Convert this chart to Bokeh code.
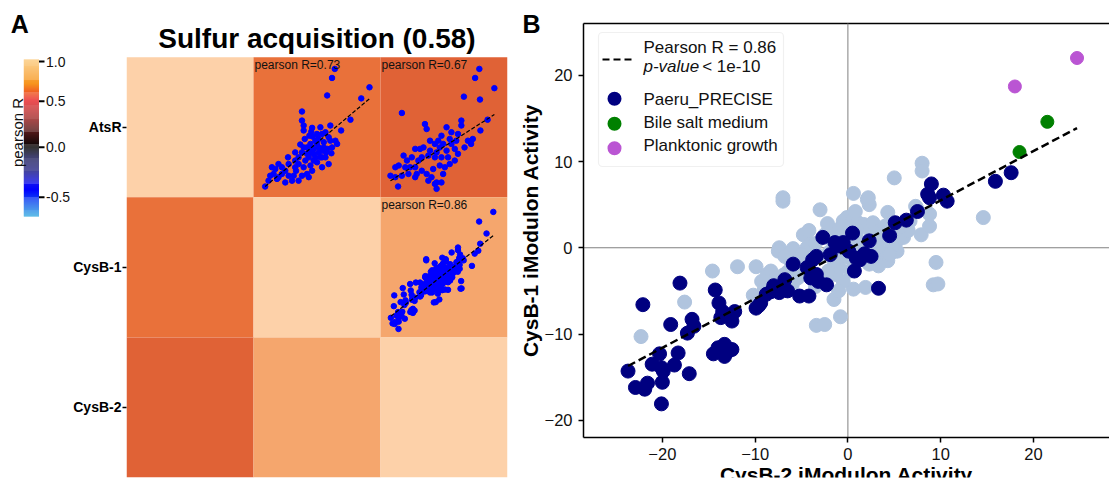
import numpy as np
from bokeh.plotting import figure
from bokeh.models import (ColumnDataSource, Range1d, FixedTicker, Label, BoxAnnotation)
from bokeh.layouts import row
from bokeh.embed import file_html
from bokeh.resources import INLINE

FONT = "Liberation Sans"

# ---------------- data ----------------
modules = ["AtsR", "CysB-1", "CysB-2"]
corr = [[1.00, 0.73, 0.67],
        [0.73, 1.00, 0.86],
        [0.67, 0.86, 1.00]]
cluster_name = "Sulfur acquisition"
cluster_score = 0.58

cb_tick_values = [1.0, 0.5, 0.0, -0.5]
cb_tick_labels = ["1.0", "0.5", "0.0", "-0.5"]

# AtsR vs CysB-1 (mini scatter, upper triangle)
atsr_cysb1_x = [9.8, 8.5, 6.2, 26.2, 22.3, 17.2, 12.8, -5.7, -5.7, -4.9, -0.9, 3.0, 7.7, 3.8, 6.9,
                -23.1, -20.7, -18.3, -16.8, -15.2, -12.0, -8.9, -5.7, -3.3, -4.1, -2.5, -7.3, -8.9,
                -4.9, -1.7, 0.6, 2.2, 3.8, 5.4, 6.9, 3.8, 1.4, -0.9, -10.4, -13.6, -17.5, -19.1,
                -15.2, -12.0, -7.3, -2.5, -0.2, 2.2, 4.6, 8.5, 10.1, 10.9, 5.4, -8.9, -5.7, -3.3,
                -2.2, -0.6, -4.4, -6.5, -9.6, -2.5, -13.6, -21.5, -19.9, -12.3, -8.5, -4.9, -1.7,
                0.6, 3.0, 5.7, 8.2, 1.4, -1.3, -4.9, 7.7, -16.8, -7.3, -0.2, 2.2, 4.6, 1.4, -3.3,
                -0.9, 6.2, 3.8, -0.2]
atsr_cysb1_y = [23.0, 19.9, 13.9, 16.7, 12.9, 5.6, 1.9, 8.4, 5.3, 3.6, 2.8, 3.0, 3.6, 0.7, -0.4,
                -17.3, -13.6, -11.3, -9.6, -13.0, -13.6, -10.7, -13.6, -13.0, -8.4, -7.3, -7.3, -5.6,
                -3.9, -2.7, -1.6, -3.9, -5.0, -7.3, -9.6, -10.7, -9.0, -11.9, -15.3, -15.9, -14.7,
                -13.0, -10.7, -9.6, -9.6, -5.6, -4.4, -1.0, -2.1, -3.9, -1.6, -2.7, 1.3, -8.4, -5.6,
                -3.9, 0.1, -0.2, -1.0, -2.9, -13.6, -14.1, -11.9, -15.3, -10.7, -7.3, -11.9, -10.7,
                -10.1, -7.3, -7.3, -5.6, -5.9, 0.7, 1.5, 1.9, -1.6, -14.1, -15.3, -6.1, -5.6, -3.9,
                -2.7, -6.1, -4.4, -4.4, -7.3, -8.4]

# AtsR vs CysB-2 (mini scatter, upper triangle)
atsr_cysb2_x = [18.1, 16.1, 25.2, 10.8, 18.4, -18.5, -7.6, -6.8, 9.6, 9.6, 22.0, 18.6, 15.0, 0.2,
                2.6, 4.9, 8.0, -5.2, -2.9, -0.6, 2.6, 4.9, 6.5, 8.0, -9.9, -12.2, -13.8, -9.1, -6.0,
                -2.9, 0.2, 3.3, -17.7, -16.1, -20.0, -21.6, -23.9, -21.6, -18.5, -15.4, -12.2, -9.1,
                -6.8, -4.5, -2.9, -2.1, 1.0, -6.0, -3.7, -0.6, 1.8, 4.1, 6.5, -11.5, -14.6, -20.3,
                -12.2, 14.2, -1.3, 1.0, -2.1, -5.2, 4.1, 7.2, -8.3, 11.1, 12.7, -10.7, -16.9, 0.2,
                -2.1]
atsr_cysb2_y = [23.0, 19.9, 16.4, 13.5, 12.5, 7.9, 4.1, 2.4, 5.3, 3.6, 5.6, 1.9, -1.0, 0.1, 3.0,
                1.3, 0.7, -1.6, -2.7, -3.9, -5.0, -2.7, -4.4, -6.1, -4.4, -4.4, -7.3, -7.3, -6.7,
                -7.3, -7.3, -7.3, -6.7, -8.4, -10.1, -10.7, -13.6, -14.1, -13.6, -13.0, -10.7, -11.9,
                -13.0, -14.1, -16.4, -15.9, -13.0, -15.3, -11.3, -10.1, -10.7, -9.6, -8.4, -13.0,
                -10.7, -17.3, -14.1, -2.7, -1.6, -2.7, -5.6, -5.0, -1.0, -1.6, -3.9, -3.9, -1.6,
                -8.4, -10.7, -15.9, -18.1]

# Panel B: CysB-2 (x) vs CysB-1 (y) iModulon activities
precise_x = [-23.7, -22.9, -21.9, -21.6, -22.1, -21.1, -20.3, -20.1, -19.9, -20.0, -20.1, -19.1,
             -18.7, -18.3, -18.1, -17.1, -17.3, -16.8, -16.6, -14.3, -14.5, -13.9, -13.5, -13.7,
             -13.3, -13.3, -13.9, -12.5, -12.2, -12.5, -9.9, -9.4, -8.8, -8.0, -7.4, -6.8, -6.5,
             -5.9, -5.2, -4.2, -4.4, -3.8, -3.4, -4.0, -3.4, -3.2, -2.7, -2.3, -1.9, -1.4, -0.9,
             -0.5, 0.1, 0.5, 0.9, 0.7, 1.3, 1.8, 2.3, 2.5, 3.3, 4.5, 5.1, 6.3, 7.5, 8.6, 9.0, 8.8,
             10.3, 10.7, 15.9, 17.6, -14.0, -12.9, -9.6, -8.3]
precise_y = [-14.3, -16.2, -16.4, -15.7, -6.6, -13.5, -12.3, -13.9, -14.3, -15.6, -18.1, -8.9,
             -13.6, -12.2, -4.1, -14.6, -9.9, -8.3, -9.1, -4.9, -12.3, -6.4, -7.4, -8.1, -11.2,
             -12.6, -12.0, -11.8, -7.4, -8.5, -7.0, -6.4, -5.4, -4.4, -5.2, -3.7, -5.0, -1.9, -5.6,
             -5.6, -2.3, -1.4, -1.0, -3.5, -3.1, -3.9, 1.2, -4.3, -0.8, 0.6, 0.2, 0.6, -0.4, 1.7,
             -1.2, -2.7, -1.4, -0.7, 0.8, -1.0, -4.7, 1.4, 2.9, 3.2, 4.2, 6.2, 7.4, 5.8, 6.1, 5.4,
             7.7, 8.7, -11.6, -12.0, -6.7, -5.1]
other_x = [-22.3, -17.6, -14.6, -11.9, -9.9, -9.3, -8.7, -8.3, -7.8, -7.4, -7.5, -7.0, -7.0, -5.9,
           -6.2, -5.4, -4.8, -4.4, -4.0, -3.0, -3.4, -2.5, -1.5, -0.8, -1.1, -0.5, -0.1, 0.5, 0.6,
           2.1, 2.3, 1.1, 1.7, 2.7, 3.3, 4.3, 5.0, 5.3, 5.3, 4.3, 3.3, 2.3, 1.9, 0.6, -0.5, -1.3,
           -2.1, -0.9, 0.3, 6.7, 7.4, 7.9, 8.8, 8.8, 9.5, 9.2, 9.7, 14.6, 8.0, 8.0, 2.2, 7.3,
           -3.0, -2.0, -1.0, 0.0, 1.0, 2.0, 3.0, -2.5, -1.5, 0.5, 1.5, 2.5, 3.5, -0.5, 1.0, -3.5,
           4.0, 4.8, -4.5, -5.5, -6.5, -7.0, -8.0, -6.0, -3.5, -1.0, -2.5, -0.2, 1.2, -1.8, 3.8,
           4.5, 6.0, 6.5, -9.0, -10.2, -6.8, -5.0, 0.2, -0.6, 2.8, 5.6, -2.2, 0.8, -4.2]
other_y = [-10.3, -6.3, -2.7, -2.2, -2.2, -3.9, -3.1, -2.7, -3.5, 0.0, -0.4, 5.4, 5.8, -0.1, -1.5,
           -3.5, 1.5, 0.0, 0.4, 4.4, -9.0, -8.9, -6.0, -8.0, 2.1, 3.1, 3.5, 3.2, 6.3, 5.6, 5.0,
           2.9, 2.7, 2.9, 1.9, 4.1, 8.1, 0.8, -0.4, -1.5, -2.1, -1.9, -4.6, -4.8, -3.9, -3.1, -2.7,
           -2.3, -2.7, 3.1, 4.6, 1.5, 3.9, 2.5, -1.7, -4.3, -4.2, 3.5, 9.8, 8.9, 5.8, 4.8,
           -1.0, -0.5, 0.5, 1.5, 1.0, 0.0, 0.5, 1.5, -1.5, -1.5, -0.5, 1.5, -0.5, 2.5, 2.0, 0.5,
           2.5, 0.2, -2.5, -2.0, -2.8, -3.2, -4.5, -4.3, -4.5, -5.0, -3.5, -1.0, 0.2, 1.0, 1.0,
           -0.8, 1.2, 2.0, -4.8, -5.5, -1.0, -0.8, 0.5, -0.2, -1.0, 2.4, 2.8, 4.2, 2.0]
bile_x = [18.5, 21.5]
bile_y = [11.1, 14.6]
plank_x = [18.0, 24.7]
plank_y = [18.7, 22.0]

pearson_r = 0.86
p_value_text = "< 1e-10"
fit_slope, fit_intercept = 0.57, -0.2
fit_atsr_cysb1 = (0.61, -3.2)
fit_atsr_cysb2 = (0.462, -4.3)

ticks_b = [-20, -10, 0, 10, 20]
b_xlim = (-28.5, 28.2)
b_ylim = (-22.0, 26.0)

# ---------------- styles / geometry ----------------
cb_anchor_vals = [-0.73, -0.5, 0.0, 0.5, 1.0, 1.02]
cb_anchor_frac = [0.0, 0.123, 0.441, 0.734, 0.987, 1.0]
cb_grad_pos = [0.0, 0.155, 0.26, 0.367, 0.45, 0.56, 0.62, 0.705, 0.79, 0.83, 0.94, 1.0]
cb_grad_hex = ["#FBC774", "#F7941D", "#E8262A", "#A02020", "#5A1A1A", "#050505", "#161650",
               "#1A1A80", "#1010F0", "#0000FF", "#1A70E8", "#2AA8E0"]
heat_anchor_vals = [0.60, 0.67, 0.73, 0.86, 1.00]
heat_anchor_hex = ["#D85A30", "#E06236", "#E9713A", "#F5A66D", "#FDD1A9"]
mini_x_span = (-28.6, 31.4)
mini_y_span = (-21.0, 27.0)

PAGE_TOP, PAGE_BOT = 0, 477          # common frame top / bottom (canvas px)
H = 488
BORDER_B = H - PAGE_BOT              # 11
DESC = 0.18                          # descent fraction for bottom-anchored labels
CB_W, HM_W, PB_W = 70, 445, 594
# colorbar strip
GB, GT = 216.0, 59.0
GH = GB - GT
G_LEFT, G_RIGHT = 23.3, 38.5
# heatmap cell geometry
CELL_TOP, CELL_PX = 56.7, 140.0
# panel B frame mapping
B_LEFT, B_TOP, B_BOTTOM, B_RIGHT = 583.0, 23.0, 437.0, 1109.0
PB_CANVAS_LEFT = CB_W + HM_W


def hex2rgb(hx):
    hx = hx.lstrip("#")
    return [int(hx[k:k + 2], 16) for k in (0, 2, 4)]


def interp_colors(pos, anchor_pos, anchor_hex):
    rgb = np.array([hex2rgb(c) for c in anchor_hex], float)
    out = []
    for q in np.atleast_1d(pos):
        vals = [np.interp(q, anchor_pos, rgb[:, k]) for k in range(3)]
        out.append("#%02x%02x%02x" % tuple(int(round(v)) for v in vals))
    return out


# ---------------- colorbar figure (x in px, y in bar fraction) ----------------
def cyf(py):
    return (GB - py) / GH


cb = figure(width=CB_W, height=H, x_range=Range1d(0, CB_W),
            y_range=Range1d(cyf(PAGE_BOT), cyf(PAGE_TOP)),
            output_backend="svg", toolbar_location=None, x_axis_location=None,
            y_axis_location=None, min_border_left=0, min_border_right=0,
            min_border_top=0, min_border_bottom=BORDER_B)
cb.grid.visible = False
cb.outline_line_color = None
N = 160
edges = np.linspace(0, 1, N + 1)
mids = 0.5 * (edges[:-1] + edges[1:])
cb.quad(left=G_LEFT, right=G_RIGHT, bottom=edges[:-1], top=edges[1:],
        color=interp_colors(1 - mids, cb_grad_pos, cb_grad_hex), line_color=None)
tick_frac = list(np.interp(cb_tick_values, cb_anchor_vals, cb_anchor_frac))
cb.segment(x0=G_RIGHT, x1=G_RIGHT + 5.5, y0=tick_frac, y1=tick_frac, line_color="black",
           line_width=2)
for tv, tl in zip(tick_frac, cb_tick_labels):
    cb.add_layout(Label(x=45.5, y=tv, text=tl, text_baseline="middle",
                        text_font=FONT, text_font_size="14px", text_color="#111111"))
cb.add_layout(Label(x=16.5, y=cyf(132), text="pearson R", angle=np.pi / 2,
                    text_align="center", text_baseline="middle",
                    text_font=FONT, text_font_size="15px", text_color="#111111"))
cb.add_layout(Label(x=10.3, y=cyf(33 + DESC * 25), text="A", text_baseline="bottom",
                    text_font=FONT, text_font_size="25px", text_font_style="bold",
                    text_color="black"))

# ---------------- heatmap figure (numeric cell grid) ----------------
n = len(modules)
y_top = n + (CELL_TOP - PAGE_TOP) / CELL_PX
heat = figure(width=HM_W, height=H, x_range=Range1d(0, n), y_range=Range1d(0, y_top),
              output_backend="svg", toolbar_location=None, min_border_left=53,
              min_border_right=8, min_border_top=0, min_border_bottom=BORDER_B)
heat.grid.visible = False
heat.outline_line_color = None
heat.xaxis.visible = False
row_centers = [n - i - 0.5 for i in range(n)]
heat.yaxis.ticker = FixedTicker(ticks=row_centers)
heat.yaxis.major_label_overrides = {c: m for c, m in zip(row_centers, modules)}
heat.yaxis.major_label_text_font = FONT
heat.yaxis.major_label_text_font_size = "14px"
heat.yaxis.major_label_text_font_style = "bold"
heat.yaxis.major_label_text_color = "black"
heat.yaxis.major_tick_out = 4
heat.yaxis.major_tick_in = 0
heat.yaxis.major_tick_line_width = 1.5
heat.yaxis.minor_tick_line_color = None
heat.yaxis.axis_line_color = None
heat.yaxis.major_label_standoff = 1
heat.add_layout(Label(x=n / 2, y=n + (CELL_TOP - (48 + DESC * 28)) / CELL_PX,
                      text="%s (%.2f)" % (cluster_name, cluster_score), text_align="center",
                      text_baseline="bottom", text_font=FONT, text_font_size="28px",
                      text_font_style="bold", text_color="black"))

cx, cy, cc = [], [], []
for i in range(n):
    for j in range(n):
        cx.append(j + 0.5)
        cy.append(n - i - 0.5)
        cc.append(corr[i][j])
heat_src = ColumnDataSource(dict(x=cx, y=cy, r=cc,
                                 color=interp_colors(cc, heat_anchor_vals, heat_anchor_hex)))
heat.rect(x="x", y="y", width=1, height=1, fill_color="color", line_color=None, source=heat_src)

all_b_x = other_x + precise_x + bile_x + plank_x
all_b_y = other_y + precise_y + bile_y + plank_y
cells = [(0, 1, atsr_cysb1_x, atsr_cysb1_y, corr[0][1], fit_atsr_cysb1),
         (0, 2, atsr_cysb2_x, atsr_cysb2_y, corr[0][2], fit_atsr_cysb2),
         (1, 2, all_b_x, all_b_y, corr[1][2], (fit_slope, fit_intercept))]
mx0, mx1 = mini_x_span
my0, my1 = mini_y_span
w, h = mx1 - mx0, my1 - my0
exr, eyr = {}, {}
for (i, j, xs, ys, r, fit) in cells:
    name = "c%d%d" % (i, j)
    base = n - 1 - i
    exr[name] = Range1d(mx0 - j * w, mx1 + (n - 1 - j) * w)
    eyr[name] = Range1d(my0 - base * h, my0 + (y_top - base) * h)
heat.extra_x_ranges = exr
heat.extra_y_ranges = eyr
for (i, j, xs, ys, r, fit) in cells:
    name = "c%d%d" % (i, j)
    heat.scatter(xs, ys, size=5.5, color="#0000FF", x_range_name=name, y_range_name=name)
    lx = np.array([min(xs), max(xs)])
    heat.line(lx, fit[0] * lx + fit[1], line_dash="4 2", line_color="black", line_width=1.2,
              x_range_name=name, y_range_name=name)
    heat.add_layout(Label(x=mx0, y=my1, x_range_name=name, y_range_name=name,
                          text="pearson R=%.2f" % r, x_offset=1, y_offset=-1,
                          text_baseline="top", text_font=FONT, text_font_size="12px",
                          text_color="#111111"))

# ---------------- panel B ----------------
sx = (B_RIGHT - B_LEFT) / (b_xlim[1] - b_xlim[0])     # px per unit
sy = (B_BOTTOM - B_TOP) / (b_ylim[1] - b_ylim[0])


def px2x(px):
    return b_xlim[0] + (px - B_LEFT) / sx


def px2y(py):
    return b_ylim[1] - (py - B_TOP) / sy


def base_y(baseline, size):
    return px2y(baseline + DESC * size)


pb = figure(width=PB_W, height=H, x_range=Range1d(px2x(PB_CANVAS_LEFT), px2x(PB_CANVAS_LEFT + PB_W)),
            y_range=Range1d(px2y(PAGE_BOT), px2y(PAGE_TOP)),
            output_backend="svg", toolbar_location=None, min_border_left=0,
            min_border_right=0, min_border_top=0, min_border_bottom=BORDER_B)
pb.grid.visible = False
pb.outline_line_color = None
for ax in (pb.xaxis, pb.yaxis):
    ax.ticker = FixedTicker(ticks=ticks_b)
    ax.major_label_overrides = {t: str(t).replace("-", "\u2212") for t in ticks_b}
    ax.major_label_text_font = FONT
    ax.major_label_text_font_size = "16.5px"
    ax.major_label_text_color = "#111111"
    ax.axis_label_text_font = FONT
    ax.axis_label_text_font_size = "21px"
    ax.axis_label_text_font_style = "bold"
    ax.axis_label_text_color = "black"
    ax.axis_line_width = 1.5
    ax.axis_line_color = "black"
    ax.major_tick_out = 5
    ax.major_tick_in = 0
    ax.major_tick_line_width = 1.5
    ax.minor_tick_line_color = None
    ax.major_label_standoff = 6
pb.xaxis.fixed_location = b_ylim[0]
pb.xaxis.bounds = b_xlim
pb.yaxis.fixed_location = b_xlim[0]
pb.yaxis.bounds = b_ylim
pb.xaxis.axis_label = "CysB-2 iModulon Activity"
pb.yaxis.axis_label = "CysB-1 iModulon Activity"
pb.xaxis.major_label_standoff = 5
pb.xaxis.axis_label_standoff = 0
pb.yaxis.axis_label_standoff = 0

# top spine and zero lines
pb.segment(x0=b_xlim[0], x1=b_xlim[1], y0=b_ylim[1], y1=b_ylim[1], line_color="black",
           line_width=1.5)
pb.segment(x0=b_xlim[0], x1=b_xlim[1], y0=0, y1=0, line_color="#808080", line_width=1)
pb.segment(x0=0, x1=0, y0=b_ylim[0], y1=b_ylim[1], line_color="#808080", line_width=1)

pb.scatter(other_x, other_y, size=14, color="#B0C4DE")
pb.scatter(precise_x, precise_y, size=14, color="#000080")
pb.scatter(bile_x, bile_y, size=13, color="#008000")
pb.scatter(plank_x, plank_y, size=13, color="#BA55D3")
fx = np.array([min(all_b_x), max(all_b_x)])
pb.line(fx, fit_slope * fx + fit_intercept, line_dash="8 4", line_color="black", line_width=2.5)

# legend (drawn by hand)
pb.add_layout(BoxAnnotation(left=px2x(598), right=px2x(783), bottom=px2y(166), top=px2y(32),
                            fill_color="white", fill_alpha=0.85, line_color="#CCCCCC",
                            line_width=1.2, border_radius=4, level="underlay"))
pb.line([px2x(602), px2x(635)], [px2y(59), px2y(59)], line_color="black", line_width=2.2,
        line_dash="7 4")
leg_colors = ["#000080", "#008000", "#BA55D3"]
leg_names = ["Paeru_PRECISE", "Bile salt medium", "Planktonic growth"]
leg_yc = [98.3, 123.3, 147.7]
leg_base = [105.0, 128.7, 151.7]
for col, nm, yc, yb in zip(leg_colors, leg_names, leg_yc, leg_base):
    pb.add_layout(BoxAnnotation(left=px2x(607), right=px2x(621), bottom=px2y(yc + 7),
                                top=px2y(yc - 7), fill_color=col, fill_alpha=1,
                                line_color=None, border_radius=7))
    pb.add_layout(Label(x=px2x(643), y=base_y(yb, 17), text=nm, text_font=FONT,
                        text_baseline="bottom", text_font_size="17px", text_color="#111111"))
pb.add_layout(Label(x=px2x(643), y=base_y(53.3, 17), text="Pearson R = %.2f" % pearson_r,
                    text_baseline="bottom", text_font=FONT, text_font_size="17px",
                    text_color="#111111"))
pb.add_layout(Label(x=px2x(643), y=base_y(72, 17), text="p-value", text_font=FONT,
                    text_baseline="bottom", text_font_size="17px", text_font_style="italic",
                    text_color="#111111"))
pb.add_layout(Label(x=px2x(701.7), y=base_y(72, 17), text=p_value_text, text_font=FONT,
                    text_baseline="bottom", text_font_size="17px", text_color="#111111"))
pb.add_layout(Label(x=px2x(522), y=base_y(33, 25), text="B", text_font=FONT,
                    text_baseline="bottom", text_font_size="25px", text_font_style="bold",
                    text_color="black"))

layout = row(cb, heat, pb)
open("out.html", "w").write(file_html(layout, INLINE))
